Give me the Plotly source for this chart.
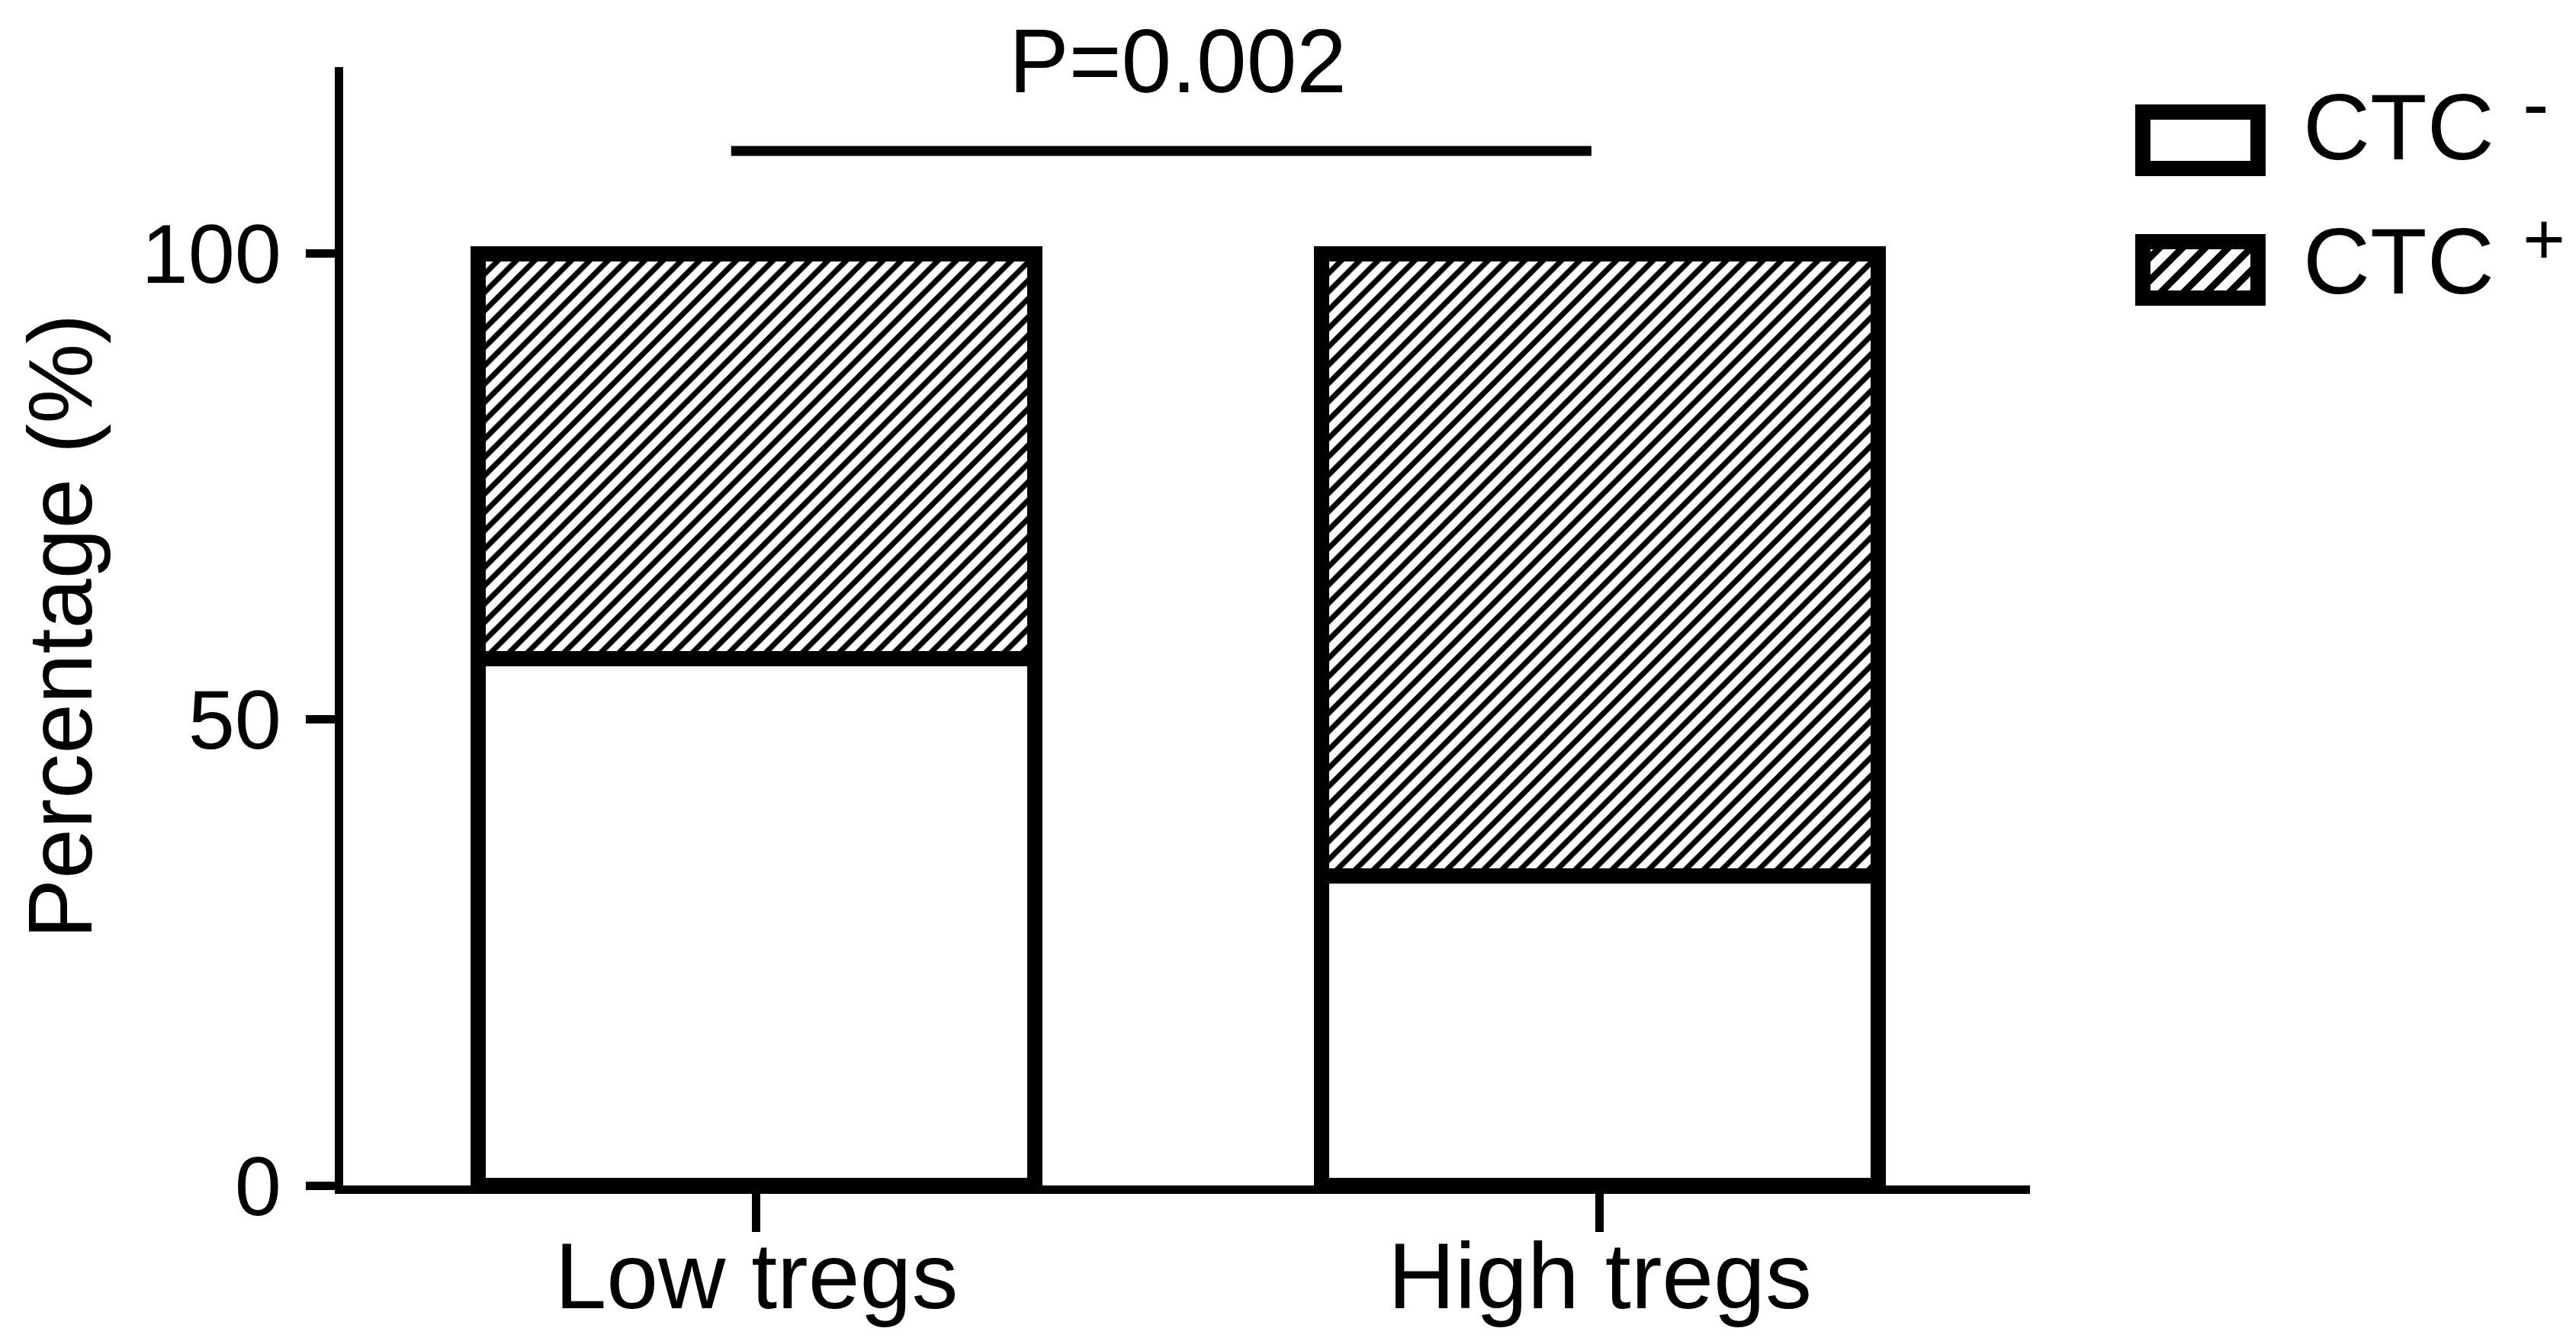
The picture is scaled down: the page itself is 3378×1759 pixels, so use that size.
import plotly.graph_objects as go

# ---- data ----
categories = ["Low tregs", "High tregs"]
ctc_neg = [56.5, 33.2]          # CTC- percentage
ctc_pos = [43.5, 66.8]          # CTC+ percentage
legend_names = ["CTC", "CTC"]
legend_sups = ["-", "+"]
y_ticks = [0, 50, 100]
p_text = "P=0.002"

W, H = 3378, 1759
ML, MR, MT, MB = 442, 724, 80, 212
PW, PH = W - ML - MR, H - MT - MB
FONT = "Liberation Sans, Arial, Helvetica, sans-serif"

def px2paper(px, py):
    return (px - ML) / PW, (H - MB - py) / PH

fig = go.Figure()
fig.add_trace(go.Bar(
    x=categories, y=ctc_neg, name="CTC-", width=0.66,
    marker=dict(color="white", line=dict(color="black", width=20)),
    showlegend=False))
fig.add_trace(go.Bar(
    x=categories, y=ctc_pos, name="CTC+", width=0.66,
    marker=dict(color="white", line=dict(color="black", width=20),
                pattern=dict(shape="/", fillmode="replace", bgcolor="white",
                             fgcolor="black", size=17, solidity=0.42)),
    showlegend=False))

shapes = []
# significance line
shapes.append(dict(type="line", xref="x", yref="y", x0=-0.03, x1=0.99, y0=111, y1=111,
                   line=dict(color="black", width=13)))

# legend boxes (manual), coordinates are stroke centre lines
boxes = [(2802, 139, 2953, 213), (2802, 309, 2953, 383)]
for i, (bx0, by0, bx1, by1) in enumerate(boxes):
    X0, Y1 = px2paper(bx0, by0)
    X1, Y0 = px2paper(bx1, by1)
    shapes.append(dict(type="rect", xref="paper", yref="paper", x0=X0, x1=X1, y0=Y0, y1=Y1,
                       fillcolor="white", line=dict(width=0)))
    if i == 1:
        period = 30
        c = bx0 + by0
        while c < bx1 + by1:
            pa = max(bx0, c - by1)
            pb = min(bx1, c - by0)
            if pb > pa:
                ax, ay = px2paper(pa, c - pa)
                bxp, byp = px2paper(pb, c - pb)
                shapes.append(dict(type="line", xref="paper", yref="paper",
                                   x0=ax, y0=ay, x1=bxp, y1=byp,
                                   line=dict(color="black", width=9)))
            c += period
    shapes.append(dict(type="rect", xref="paper", yref="paper", x0=X0, x1=X1, y0=Y0, y1=Y1,
                       fillcolor="rgba(0,0,0,0)", line=dict(color="black", width=20)))

annotations = [dict(x=0.5, y=120, xref="x", yref="y", text=p_text, showarrow=False, yshift=8,
                    yanchor="middle", xanchor="center", font=dict(size=118, color="black", family=FONT))]
text_y = [159, 335]
sup_y = [128, 305]
sup_size = [104, 96]
for i in range(2):
    tx, ty = px2paper(3010, text_y[i])
    annotations.append(dict(x=tx, y=ty, xref="paper", yref="paper", text=legend_names[i],
                            showarrow=False, xanchor="left", yanchor="middle",
                            font=dict(size=122, color="black", family=FONT)))
    sx, sy = px2paper(3298, sup_y[i])
    annotations.append(dict(x=sx, y=sy, xref="paper", yref="paper", text=legend_sups[i],
                            showarrow=False, xanchor="left", yanchor="middle",
                            font=dict(size=sup_size[i], color="black", family=FONT)))

fig.update_layout(
    width=W, height=H, autosize=False,
    margin=dict(l=ML, r=MR, t=MT, b=MB, pad=0, autoexpand=False),
    paper_bgcolor="white", plot_bgcolor="white",
    barmode="stack", bargap=0,
    font=dict(family=FONT, size=112, color="black"),
    shapes=shapes, annotations=annotations,
    xaxis=dict(type="category", range=[-0.49, 1.51], showline=True, linecolor="black", linewidth=11,
               ticks="outside", ticklen=50, tickwidth=11, tickcolor="black", ticklabelstandoff=-46,
               automargin=False,
               showgrid=False, zeroline=False, tickfont=dict(size=122, family=FONT, color="black")),
    yaxis=dict(range=[0, 120], tickvals=y_ticks, showline=True, linecolor="black", linewidth=11,
               ticks="outside", ticklen=38, tickwidth=11, tickcolor="black", ticklabelstandoff=10,
               automargin=False,
               showgrid=False, zeroline=False, tickfont=dict(size=110, family=FONT, color="black")),
)
fig.update_yaxes(title=dict(text="Percentage (%)", standoff=30, font=dict(size=118, family=FONT, color="black")))

fig.write_html("out.html")
